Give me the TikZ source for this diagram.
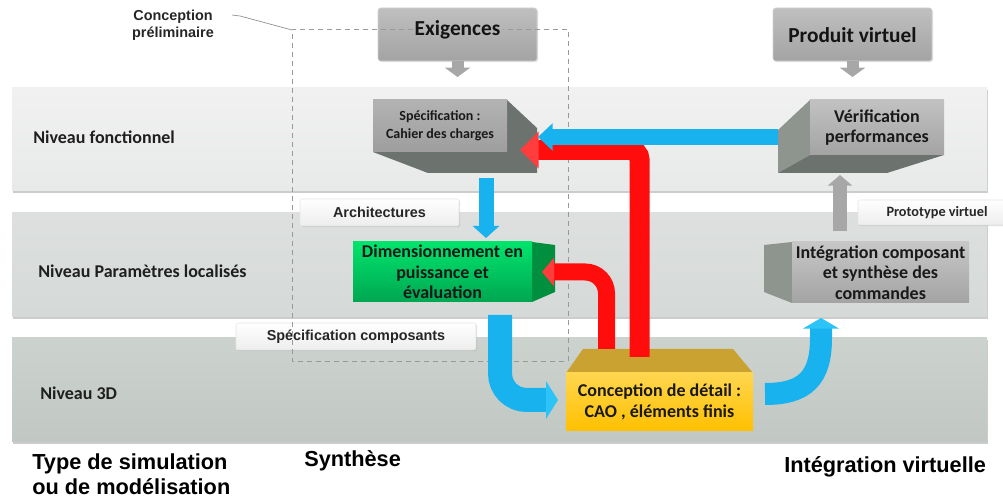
\documentclass[tikz,border=0pt]{standalone}
\usepackage{fontspec}
\setmainfont{Carlito}
\newfontfamily\arialfont{Liberation Sans}
\usetikzlibrary{arrows.meta,shadows,calc}
\definecolor{bandAt}{HTML}{F0F1F0}\definecolor{bandAb}{HTML}{E8EAE9}
\definecolor{bandBt}{HTML}{DDE0DE}\definecolor{bandBb}{HTML}{D5D9D7}
\definecolor{bandCt}{HTML}{CCD3CE}\definecolor{bandCb}{HTML}{C1C8C3}
\definecolor{cblue}{HTML}{18B3EF}
\definecolor{cbluel}{HTML}{2CC3F7}
\definecolor{cred}{HTML}{FF0D0D}
\definecolor{credl}{HTML}{FF3D3D}
\definecolor{carrow}{HTML}{A7A7A7}
\definecolor{cdark}{HTML}{6C726E}
\definecolor{cside}{HTML}{8E958F}
\definecolor{gtop}{HTML}{00E46C}\definecolor{gbot}{HTML}{00A651}\definecolor{gside}{HTML}{008F3F}
\definecolor{ytop}{HTML}{FFD64F}\definecolor{ybot}{HTML}{FFC000}\definecolor{yside}{HTML}{C9A232}
\tikzset{
  lvl/.style={anchor=west, inner sep=0pt, font=\bfseries\fontsize{13.5}{16}\selectfont, text=black!88},
  tag/.style={rounded corners=1.5pt, top color=white, bottom color=black!7, draw=black!10,
     drop shadow={opacity=0.25,shadow xshift=0.8pt,shadow yshift=-0.8pt}, inner sep=0pt,
     font=\arialfont\bfseries\fontsize{10.8}{12}\selectfont, text=black!85},
  topbox/.style={rounded corners=2pt, top color=black!25, bottom color=black!36, draw=black!18,
     drop shadow={opacity=0.25,shadow xshift=0.8pt,shadow yshift=-0.8pt}, inner sep=0pt},
  bigtext/.style={inner sep=0pt, font=\bfseries\fontsize{16}{18}\selectfont, text=black!92},
  face/.style={inner sep=0pt, align=center, text=black!90},
  caption/.style={anchor=west, inner sep=0pt, align=left, font=\arialfont\bfseries\fontsize{16.3}{19}\selectfont},
  blueline/.style={draw=cblue, line width=#1*0.75pt},
  redline/.style={draw=cred, line width=#1*0.75pt},
  grayline/.style={draw=carrow, line width=#1*0.75pt},
  dashbox/.style={draw=black!40, line width=0.6pt, dash pattern=on 3.75pt off 3pt},
}
\begin{document}
\begin{tikzpicture}[x=0.75pt,y=-0.75pt]
\useasboundingbox (0,0) rectangle (1003,498);
% ---------- bands
\fill[black!20] (13,90) rectangle (988,193);
\fill[top color=bandAt, bottom color=bandAb] (12,88) rectangle (987,191);
\fill[black!20] (13,215) rectangle (988,319);
\fill[top color=bandBt, bottom color=bandBb] (12,213) rectangle (987,317);
\fill[black!20] (13,340) rectangle (988,444);
\fill[top color=bandCt, bottom color=bandCb] (12,338) rectangle (987,442);
\node[lvl] (lv1) at (33,137) {Niveau fonctionnel};
\node[lvl] (lv2) at (38,271) {Niveau Paramètres localisés};
\node[lvl] (lv3) at (40,393) {Niveau 3D};
% ---------- tags
\node[tag, minimum width=159*0.75pt, minimum height=27*0.75pt] (arch) at (379.5,212.5) {Architectures};
\node[tag, minimum width=240*0.75pt, minimum height=27*0.75pt] (scomp) at (356,336.5) {Spécification composants};
\node[tag, font=\bfseries\fontsize{10.7}{12}\selectfont, minimum width=158*0.75pt, minimum height=25*0.75pt] (proto) at (937,212.5) {Prototype virtuel};
% ---------- top boxes
\node[topbox, minimum width=159*0.75pt, minimum height=53*0.75pt] (exig) at (457.5,34.5) {};
\node[topbox, minimum width=159*0.75pt, minimum height=53*0.75pt] (prod) at (852.5,34.5) {};
% ---------- dashed frame
\node[inner sep=0pt, align=center, font=\arialfont\bfseries\fontsize{10.8}{12.75}\selectfont, text=black!85] (cp) at (173,25) {Conception\\préliminaire};
\coordinate (cpa) at (232,15); \coordinate (cpb) at (240,16); \coordinate (cpc) at (292,30);
\draw[black!45, line width=0.5pt] (cpa) -- (cpb) -- (cpc);
\draw[dashbox] (413,29) -- (292,29) -- (292,361) -- (568,361) -- (568,29) -- (503,29);
\node[bigtext] (exigT) at (457.5,30) {Exigences};
\node[bigtext] (prodT) at (852.5,35) {Produit virtuel};
% ---------- Specification 3D box
\fill[cdark] (507,100) -- (537,128) -- (537,173) -- (428,173) -- (373,152) -- cycle;
\node[face, top color=black!30, bottom color=black!38, minimum width=134*0.75pt, minimum height=52*0.75pt,
  font=\bfseries\fontsize{10.5}{13.5}\selectfont] (spec) at (440,126) {Spécification :\\Cahier des charges};
% ---------- Verification 3D box
\fill[cside] (810,100) -- (778,130) -- (778,173) -- (810,155) -- cycle;
\fill[cdark] (778,173) -- (887,173) -- (944,155) -- (810,155) -- cycle;
\node[face, top color=black!24, bottom color=black!36, minimum width=134*0.75pt, minimum height=55*0.75pt,
  font=\bfseries\fontsize{13.5}{15}\selectfont] (verif) at (877,127.5) {Vérification\\performances};
% ---------- Dimensionnement (green)
\fill[gside] (532,242) -- (555,245) -- (555,292) -- (532,302) -- cycle;
\node[face, top color=gtop, bottom color=gbot, minimum width=179*0.75pt, minimum height=60*0.75pt,
  font=\bfseries\fontsize{13.5}{15.4}\selectfont] (dim) at (442.5,272) {Dimensionnement en\\puissance et\\évaluation};
% ---------- Integration
\fill[cside] (792,242) -- (764,245) -- (764,292) -- (792,303) -- cycle;
\node[face, top color=black!22, bottom color=black!36, minimum width=177*0.75pt, minimum height=61*0.75pt,
  font=\bfseries\fontsize{13.5}{15.4}\selectfont] (integ) at (880.5,272.5) {Intégration composant\\et synthèse des\\commandes};
% ---------- Conception de detail
\fill[yside] (566,373) -- (583,349) -- (733,349) -- (753,373) -- cycle;
\node[face, top color=ytop, bottom color=ybot, minimum width=187*0.75pt, minimum height=58*0.75pt,
  font=\bfseries\fontsize{13.5}{15.75}\selectfont] (concep) at (659.5,402) {Conception de détail :\\CAO , éléments finis};
% ---------- connectors
\coordinate (exA) at (457.5,61); \coordinate (exB) at (457.5,77);
\coordinate (prA) at (852.5,61); \coordinate (prB) at (852.5,77);
\draw[grayline=12, -{Triangle[width=18.75pt,length=7pt]}] (exA) -- (exB);
\draw[grayline=12, -{Triangle[width=18.75pt,length=7pt]}] (prA) -- (prB);
\coordinate (igA) at (840,231); \coordinate (vfB) at (840,175);
\draw[grayline=14, -{Triangle[width=18pt,length=8pt]}] (igA) -- (vfB);
% red arrows
\coordinate (r1a) at (639.5,357); \coordinate (r1b) at (639.5,150); \coordinate (r1c) at (520,150);
\draw[redline=20, rounded corners=7pt, -{Triangle[width=27pt,length=14pt,color=credl]}] (r1a) -- (r1b) -- (r1c);
\coordinate (r2a) at (606.5,349); \coordinate (r2b) at (606.5,272); \coordinate (r2c) at (542,272);
\draw[redline=17, rounded corners=16pt, -{Triangle[width=21pt,length=9pt,color=credl]}] (r2a) -- (r2b) -- (r2c);
% blue arrows
\coordinate (b1a) at (778,137); \coordinate (b1b) at (538,137);
\draw[blueline=16, -{Triangle[width=20pt,length=11pt]}] (b1a) -- (b1b);
\coordinate (b2a) at (486,178); \coordinate (b2b) at (486,238);
\draw[blueline=15, -{Triangle[width=19.5pt,length=9pt]}] (b2a) -- (b2b);
\coordinate (b3a) at (500,315); \coordinate (b3b) at (500,400); \coordinate (b3c) at (558,400);
\draw[blueline=24, rounded corners=20pt, -{Triangle[width=28pt,length=9pt,color=cbluel]}] (b3a) -- (b3b) -- (b3c);
\coordinate (b4a) at (765,394); \coordinate (b4b) at (821,338); \coordinate (b4c) at (821,318);
\draw[blueline=22, -{Triangle[width=27pt,length=8pt,color=cbluel]}] (b4a) .. controls (805,394) and (821,378) .. (b4b) -- (b4c);
% ---------- bottom captions
\node[caption] (typ) at (32,474) {Type de simulation\\ou de modélisation};
\node[caption] (syn) at (304,461) {Synthèse};
\node[caption] (intv) at (784,467) {Intégration virtuelle};
\end{tikzpicture}
\end{document}
